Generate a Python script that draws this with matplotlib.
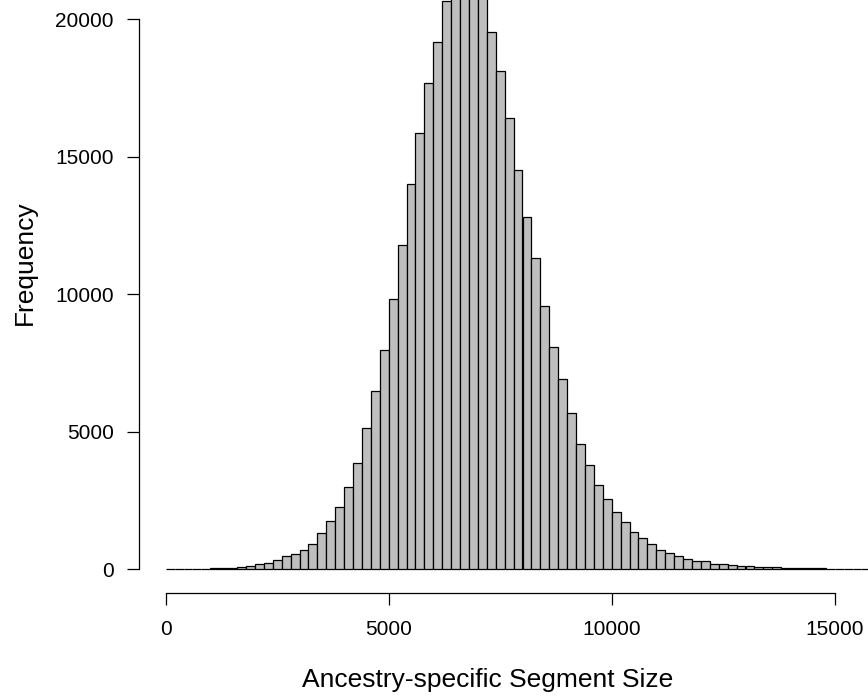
import numpy as np
import matplotlib
matplotlib.use("Agg")
import matplotlib.pyplot as plt

plt.rcParams['font.family'] = ['Liberation Sans', 'DejaVu Sans']

# histogram of segment sizes, bins of 200 starting at 0
bin_width = 200
counts = [
    5, 8, 12, 18, 25, 35, 47, 58, 75, 110, 200, 235,
    327, 484, 567, 713, 931, 1331, 1756, 2276, 3004, 3865, 5127, 6484,
    7964, 9818, 11804, 14022, 15855, 17684, 19175, 20665,
    21700, 22300, 22100, 21200,
    19527, 18109, 16422, 14520, 12800, 11331, 9585, 8073,
    6909, 5673, 4545, 3793, 3065, 2545, 2095, 1731, 1356, 1149, 909, 713,
    604, 495, 364, 313, 291, 204, 182, 167,
    125, 115, 90, 80, 70, 60, 52, 45, 38, 32, 27, 22, 18, 15, 12, 10,
]
x_ticks = [0, 5000, 10000, 15000]
y_ticks = [0, 5000, 10000, 15000, 20000]

bin_left = np.arange(len(counts)) * bin_width

W, H = 868, 700
fig = plt.figure(figsize=(W / 100, H / 100), dpi=100)

# axes placed in pixels so the scale matches the reference
L, R, B, T = 146, 868, 580, 0
ax = fig.add_axes([L / W, (H - B) / H, (R - L) / W, (B - T) / H])

px_x = 44.6 / 1000   # px per unit on x
px_y = 27.5 / 1000   # px per unit on y
x0, y0 = 165.7, 569.3
ax.set_xlim((L - x0) / px_x, (R - x0) / px_x)
ax.set_ylim((y0 - B) / px_y, (y0 - T) / px_y)

ax.bar(bin_left, counts, width=bin_width, align='edge',
       color='#bebebe', edgecolor='black', linewidth=0.9)

for s in ['top', 'right']:
    ax.spines[s].set_visible(False)
ax.spines['left'].set_position(('outward', (L - 138.7) * 0.72))
ax.spines['bottom'].set_position(('outward', (592.7 - B) * 0.72))
ax.spines['left'].set_bounds(0, 20000)
ax.spines['bottom'].set_bounds(0, 15000)
for s in ['left', 'bottom']:
    ax.spines[s].set_linewidth(0.9)

ax.set_xticks(x_ticks)
ax.set_yticks(y_ticks)
ax.set_xticklabels([str(v) for v in x_ticks])
ax.set_yticklabels([str(v) for v in y_ticks])
ax.tick_params(axis='both', length=8.8, width=0.9, labelsize=15, colors='black')
ax.tick_params(axis='x', pad=10.5)
ax.tick_params(axis='y', pad=9)

fig.text(488 / W, (H - 687.3) / H, 'Ancestry-specific Segment Size',
         ha='center', va='baseline', fontsize=19)
fig.text(25 / W, (H - 263) / H, 'Frequency', rotation=90,
         ha='center', va='center', fontsize=19)

fig.savefig('out.png', dpi=100)
